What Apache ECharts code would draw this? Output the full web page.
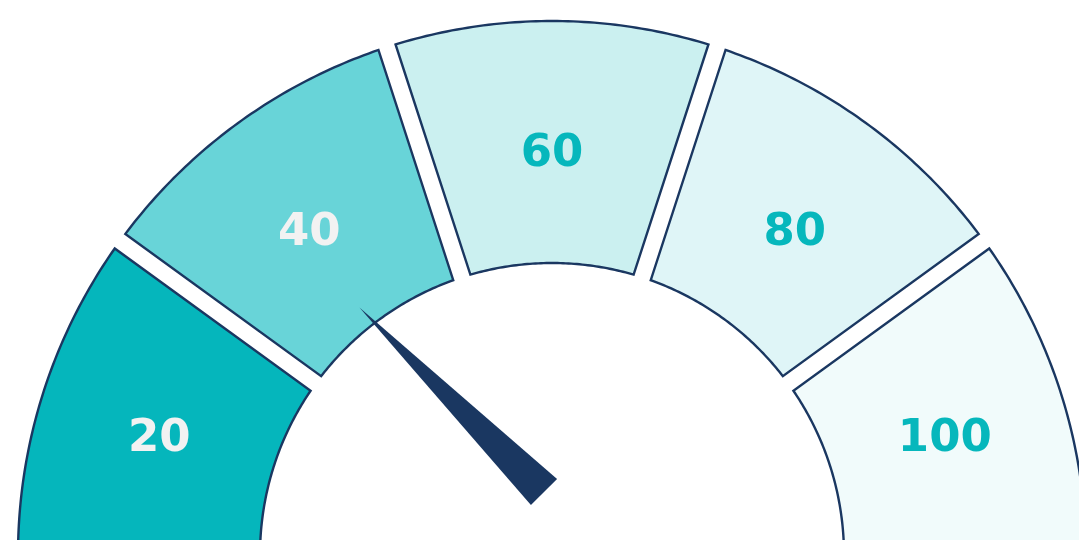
<!DOCTYPE html>
<html>
<head>
<meta charset="utf-8">
<script src="https://cdn.jsdelivr.net/npm/echarts@6/dist/echarts.min.js"></script>
<style>
  html, body { margin: 0; padding: 0; background: #ffffff; }
  #chart { width: 1079px; height: 540px; }
</style>
</head>
<body>
<div id="chart"></div>
<script>
// ---- data ----
const SEGMENT_LABELS = ['20', '40', '60', '80', '100'];
const SEGMENT_START = [0, 20, 40, 60, 80];
const SEGMENT_END = [20, 40, 60, 80, 100];
const NEEDLE_VALUE = [25];

// ---- styles ----
const FILLS = ['#05b6bc', '#68d4d8', '#cbf0f0', '#dff5f7', '#f1fbfb'];
const TEXT_COLORS = ['#f2f2f2', '#f2f2f2', '#06b7bc', '#06b7bc', '#06b7bc'];
const NAVY = '#1a3761';
const INNER = 292 / 534;       // inner radius as fraction of outer
const HALF_GAP = 9;            // px, half width of the parallel gap
const UNITS_PER_RAD = 100 / Math.PI; // angle axis: 200 units per full turn

const segData = SEGMENT_LABELS.map((l, i) => [SEGMENT_START[i], SEGMENT_END[i], i]);

const chart = echarts.init(document.getElementById('chart'), null, { renderer: 'canvas' });

chart.setOption({
  animation: false,
  backgroundColor: '#ffffff',
  polar: { center: [552, 555], radius: [0, 534] },
  radiusAxis: { type: 'value', min: 0, max: 1, show: false },
  angleAxis: { type: 'value', min: 0, max: 200, startAngle: 180, clockwise: true, show: false },
  series: [
    {
      type: 'custom',
      coordinateSystem: 'polar',
      data: segData,
      renderItem: function (params, api) {
        const cs = params.coordSys;
        const a0 = api.value(0), a1 = api.value(1), idx = api.value(2);
        const Rpx = cs.r, rpx = cs.r * INNER;
        const dOut = Math.asin(HALF_GAP / Rpx) * UNITS_PER_RAD;
        const dIn = Math.asin(HALF_GAP / rpx) * UNITS_PER_RAD;
        const N = 60;
        const pts = [];
        for (let t = 0; t <= N; t++) {
          const av = (a0 + dOut) + (t / N) * ((a1 - dOut) - (a0 + dOut));
          pts.push(api.coord([1, av]));
        }
        for (let t = N; t >= 0; t--) {
          const av = (a0 + dIn) + (t / N) * ((a1 - dIn) - (a0 + dIn));
          pts.push(api.coord([INNER, av]));
        }
        const mid = api.coord([(1 + INNER) / 2, (a0 + a1) / 2]);
        return {
          type: 'group',
          children: [
            {
              type: 'polygon',
              shape: { points: pts },
              style: { fill: FILLS[idx], stroke: NAVY, lineWidth: 2.4, lineJoin: 'miter' }
            },
            {
              type: 'text',
              x: mid[0],
              y: mid[1] + 12,
              style: {
                text: SEGMENT_LABELS[idx],
                fill: TEXT_COLORS[idx],
                fontFamily: 'DejaVu Sans',
                fontWeight: 'bold',
                fontSize: 45,
                align: 'center',
                verticalAlign: 'middle'
              }
            }
          ]
        };
      }
    },
    {
      type: 'gauge',
      center: [544, 492],
      radius: 261,
      startAngle: 180,
      endAngle: 0,
      min: 0,
      max: 100,
      axisLine: { show: false },
      splitLine: { show: false },
      axisTick: { show: false },
      axisLabel: { show: false },
      progress: { show: false },
      anchor: { show: false },
      title: { show: false },
      detail: { show: false },
      pointer: {
        icon: 'path://M50,0 L100,100 L0,100 Z',
        length: 261,
        width: 37,
        keepAspect: false,
        itemStyle: { color: NAVY }
      },
      data: [{ value: NEEDLE_VALUE[0] }]
    }
  ]
});
</script>
</body>
</html>
